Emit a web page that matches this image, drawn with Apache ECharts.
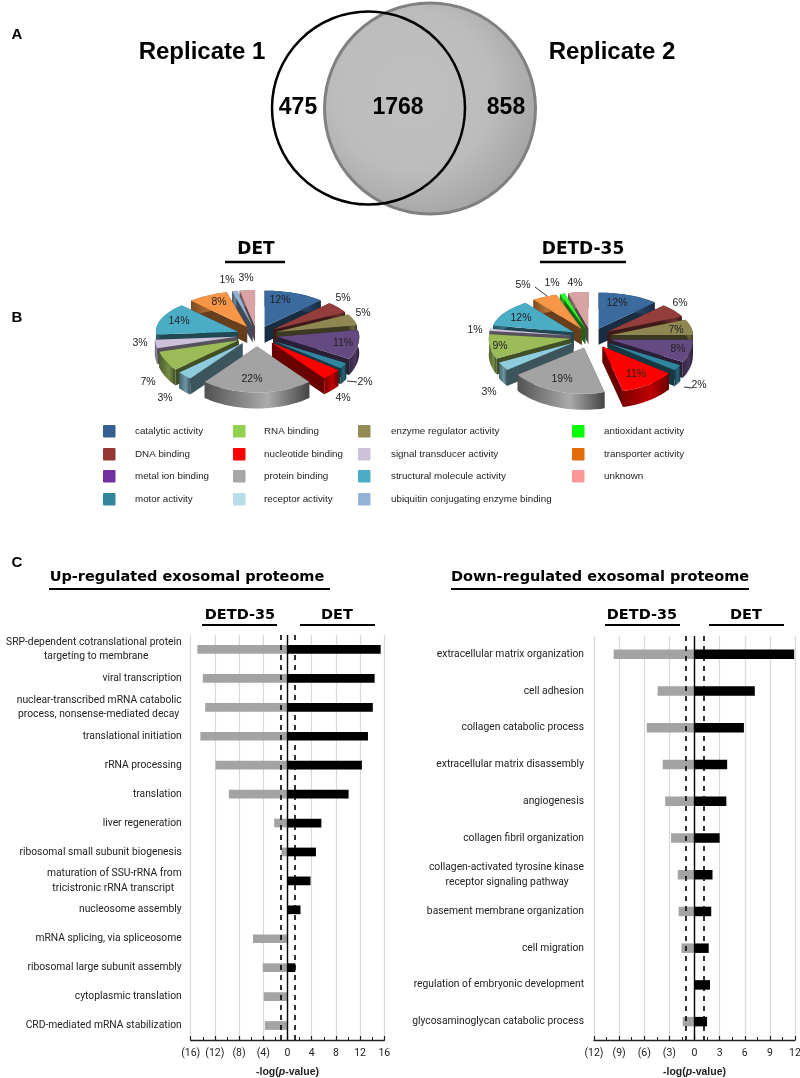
<!DOCTYPE html>
<html><head><meta charset="utf-8">
<style>html,body{margin:0;padding:0;background:#fff}#c{width:800px;height:1078px}</style>
<script src="https://cdn.jsdelivr.net/npm/echarts@6/dist/echarts.min.js"></script>
</head><body><div id="c"></div>
<script>
// ---------- Panel A ----------
const vennCounts = [475, 1768, 858];
const vennNames = ['Replicate 1', 'Replicate 2'];

// ---------- Panel B ----------
const functionNames = ['catalytic activity','DNA binding','enzyme regulator activity','metal ion binding','motor activity','nucleotide binding','protein binding','receptor activity','RNA binding','signal transducer activity','structural molecule activity','transporter activity','ubiquitin conjugating enzyme binding','antioxidant activity','unknown'];
const detShares  = [12,5,5,11,2,4,22,3,7,3,14,8,1,0,3];
const detd35Shares = [12,6,7,8,2,11,19,3,9,1,12,5,0,1,4];
const pieColors = ['#3b6a9e','#933e3c','#8f8752','#644a80','#31869f','#ff0000','#a3a3a3','#8ecbdc','#9bbb59','#ccc1da','#4bacc6','#f79646','#95b3d7','#33ff33','#d9a3a3'];
const legendColors = {'catalytic activity':'#376092','DNA binding':'#953735','metal ion binding':'#7030a0','motor activity':'#31859c','RNA binding':'#92d050','nucleotide binding':'#ff0000','protein binding':'#a6a6a6','receptor activity':'#b7dee8','enzyme regulator activity':'#948a54','signal transducer activity':'#ccc1da','structural molecule activity':'#4bacc6','ubiquitin conjugating enzyme binding':'#95b3d7','antioxidant activity':'#00ff00','transporter activity':'#e36c09','unknown':'#ff9999'};
const legendColumns = [
  ['catalytic activity','DNA binding','metal ion binding','motor activity'],
  ['RNA binding','nucleotide binding','protein binding','receptor activity'],
  ['enzyme regulator activity','signal transducer activity','structural molecule activity','ubiquitin conjugating enzyme binding'],
  ['antioxidant activity','transporter activity','unknown']
];

// ---------- Panel C ----------
const upTerms = ['SRP-dependent cotranslational protein\ntargeting to membrane             ','viral transcription','nuclear-transcribed mRNA catabolic\nprocess, nonsense-mediated decay ','translational initiation','rRNA processing','translation','liver regeneration','ribosomal small subunit biogenesis','maturation of SSU-rRNA from\ntricistronic rRNA transcript   ','nucleosome assembly','mRNA splicing, via spliceosome','ribosomal large subunit assembly','cytoplasmic translation','CRD-mediated mRNA stabilization'];
const upDetd35 = [-14.9,-14.0,-13.6,-14.4,-11.9,-9.7,-2.2,-1.0,0,0,-5.7,-4.1,-3.9,-3.75];
const upDet = [15.4,14.4,14.1,13.3,12.3,10.1,5.6,4.7,3.8,2.15,0,1.3,0,0];
const downTerms = ['extracellular matrix organization','cell adhesion','collagen catabolic process','extracellular matrix disassembly','angiogenesis','collagen fibril organization','collagen-activated tyrosine kinase\nreceptor signaling pathway      ','basement membrane organization','cell migration','regulation of embryonic development','glycosaminoglycan catabolic process'];
const downDetd35 = [-9.65,-4.4,-5.7,-3.8,-3.5,-2.8,-2.0,-1.9,-1.55,0,-1.4];
const downDet = [11.9,7.2,5.9,3.9,3.8,3.0,2.15,2.0,1.7,1.85,1.5];
const upThresholds = [-1.1,1.2];
const downThresholds = [-1.07,1.07];

// ---------- layout (not data) ----------
const SANS='"Liberation Sans",Arial,sans-serif', NARROW='Roboto,"Liberation Sans",sans-serif', WIDE='"DejaVu Sans",sans-serif';
const detLabelXY = [[280,300],[343,298],[363,313],[343,343],[365,382],[343,398],[252,379],[165,398],[148,382],[140,343],[179,321],[219,302],[227,280],null,[246,278]];
const detdLabelXY = [[617,303],[680,303],[676,330],[678,349],[699,385],[636,374],[562,379],[489,392],[500,346],[475,330],[521,318],[523,285],null,[552,283],[575,283]];

function shade(hex,f){const n=parseInt(hex.slice(1),16);const c=s=>Math.min(255,Math.round(((n>>s)&255)*f));return `rgb(${c(16)},${c(8)},${c(0)})`;}

function pieSeries(shares,center){
  let cum=0;const rows=[];
  shares.forEach((v,i)=>{ if(v>0){rows.push({i,v,start:cum,end:cum+v});} cum+=v; });
  const total=cum;
  rows.sort((a,b)=>{const m=r=>(r.start+r.end)/2/total*2*Math.PI;return (-Math.cos(m(a)))-(-Math.cos(m(b)));});
  const rx=82,ryB=36,ryF=46,depth=16,ex=0.25;
  return {type:'custom',coordinateSystem:'cartesian2d',xAxisIndex:0,yAxisIndex:0,z:3,silent:true,
    data:rows.map(r=>[center[0],center[1],r.i,r.start,r.end]),
    renderItem(params,api){
      const c=api.coord([api.value(0),api.value(1)]),idx=api.value(2);
      const a0=api.value(3)/total*2*Math.PI,a1=api.value(4)/total*2*Math.PI,mid=(a0+a1)/2;
      const P=(a,r)=>{const cs=Math.cos(a);return [Math.sin(a)*rx*r,-cs*(cs>=0?ryB:ryF)*r];};
      const off=P(mid,ex),ax=c[0]+off[0],ay=c[1]+off[1];
      const arc=[];const n=Math.max(4,Math.ceil((a1-a0)/0.05));
      for(let k=0;k<=n;k++){const p=P(a0+(a1-a0)*k/n,1);arc.push([ax+p[0],ay+p[1]]);}
      const down=p=>[p[0],p[1]+depth];
      const col=pieColors[idx];
      const top=[[ax,ay],...arc];
      const outer=[...arc,...arc.slice().reverse().map(down)];
      const wallFill=new echarts.graphic.LinearGradient(0,0,1,0,[{offset:0,color:shade(col,0.5)},{offset:0.6,color:shade(col,idx===6?1.05:0.75)},{offset:1,color:shade(col,0.42)}]);
      const rad=p=>({type:'polygon',shape:{points:[[ax,ay],p,down(p),[ax,ay+depth]]},style:{fill:shade(col,0.42)}});
      return {type:'group',children:[
        rad(arc[0]),rad(arc[arc.length-1]),
        {type:'polygon',shape:{points:outer},style:{fill:wallFill}},
        {type:'polygon',shape:{points:top},style:{fill:col}}
      ]};
    }
  };
}

function barSeries(name,vals,color,x,thresholds,bw){
  const s={name,type:'bar',xAxisIndex:x,yAxisIndex:x,data:vals,barWidth:bw,barGap:'-100%',itemStyle:{color},z:2,silent:true};
  if(thresholds){
    s.markLine={silent:true,symbol:'none',label:{show:false},animation:false,z:5,
      data:[{xAxis:thresholds[0],lineStyle:{type:[5,5],color:'#000',width:1.6}},
            {xAxis:thresholds[1],lineStyle:{type:[5,5],color:'#000',width:1.6}},
            {xAxis:0,lineStyle:{type:'solid',color:'#000',width:1.4}}]};
  }
  return s;
}

function valueAxis(gridIndex,lim,interval){
  return {type:'value',gridIndex,min:-lim,max:lim,interval,
    axisLine:{show:true,onZero:false,lineStyle:{color:'#222',width:1.4}},
    axisTick:{show:true,inside:true,length:4,lineStyle:{color:'#222',width:1.2}},
    minorTick:{show:true,splitNumber:2,length:3,lineStyle:{color:'#222',width:1}},
    splitLine:{show:true,lineStyle:{color:'#d9d9d9',width:1.2}},
    axisLabel:{margin:8,fontFamily:NARROW,fontSize:10.5,color:'#222',hideOverlap:false,showMinLabel:true,showMaxLabel:true,
      formatter:v=>v<0?'('+(-v)+')':String(v)},
    name:'{b|-log(}{i|p}{b|-value)}',nameLocation:'middle',nameGap:27,
    nameTextStyle:{rich:{b:{fontFamily:SANS,fontWeight:'bold',fontSize:10.5,color:'#222'},i:{fontFamily:SANS,fontWeight:'bold',fontStyle:'italic',fontSize:10.5,color:'#222'}}}
  };
}
function catAxis(gridIndex,terms,margin,size){
  return {type:'category',gridIndex,data:terms,inverse:true,
    axisLine:{show:false,onZero:false},axisTick:{show:false},splitLine:{show:false},
    axisLabel:{interval:0,margin,align:'right',fontFamily:NARROW,fontSize:size,color:'#222',lineHeight:14.5}};
}

// ---------- static text ----------
const T=(text,x,y,font,size,weight,align,color)=>({type:'text',z:100,x,y,silent:true,style:{text,fontFamily:font,fontSize:size,fontWeight:weight||'normal',fill:color||'#000',align:align||'center',verticalAlign:'middle'}});
const L=(x1,y1,x2,y2,w,col)=>({type:'line',z:100,silent:true,shape:{x1,y1,x2,y2},style:{stroke:col||'#000',lineWidth:w||2}});
const graphics=[
  T('A',17,35,SANS,15,'bold'),T('B',17,318,SANS,15,'bold'),T('C',17,563,SANS,15,'bold'),
  T(vennNames[0],202,52,SANS,24,'bold'),T(vennNames[1],612,52,SANS,24,'bold'),
  T('DET',256,250,WIDE,17,'bold'),L(225,262,285,262,2.5),
  T('DETD-35',583,250,WIDE,17,'bold'),L(540,262,626,262,2.5),
  L(347,381,357,382,1,'#333'),L(684,387,692,388,1,'#333'),L(535,287,547,296,1,'#333'),
  T('Up-regulated exosomal proteome',187,577,WIDE,14.5,'bold'),L(49,589,330,589,2),
  T('DETD-35',240,615,WIDE,14.5,'bold'),L(202,625,277,625,2),
  T('DET',337,615,WIDE,14.5,'bold'),L(300,625,375,625,2),
  T('Down-regulated exosomal proteome',600,577,WIDE,14.5,'bold'),L(451,589,749,589,2),
  T('DETD-35',642,615,WIDE,14.5,'bold'),L(605,625,680,625,2),
  T('DET',746,615,WIDE,14.5,'bold'),L(709,625,784,625,2)
];
[[detShares,detLabelXY],[detd35Shares,detdLabelXY]].forEach(([vals,xy])=>{
  vals.forEach((v,i)=>{ if(v>0&&xy[i]) graphics.push(T(v+'%',xy[i][0],xy[i][1],SANS,10.5,'normal','center','#222')); });
});
const legendX=[[103,135],[233,264],[358,391],[572,604]],legendY=[431,454,476,499];
legendColumns.forEach((col,c)=>col.forEach((name,r)=>{
  graphics.push({type:'rect',z:100,silent:true,shape:{x:legendX[c][0],y:legendY[r]-6,width:12.5,height:12.5,r:1},style:{fill:legendColors[name]}});
  graphics.push(T(name,legendX[c][1],legendY[r],SANS,9.8,'normal','left','#222'));
}));

const option={
  animation:false,backgroundColor:'#fff',
  grid:[
    {left:0,top:0,width:800,height:1078,show:false,outerBoundsMode:'none'},
    {left:190.7,top:635,width:193.6,height:405,show:false,outerBoundsMode:'none',containLabel:false},
    {left:594,top:636,width:201,height:404,show:false,outerBoundsMode:'none',containLabel:false}
  ],
  xAxis:[{type:'value',gridIndex:0,min:0,max:800,show:false},valueAxis(1,16,4),valueAxis(2,12,3)],
  yAxis:[{type:'value',gridIndex:0,min:0,max:1078,inverse:true,show:false},catAxis(1,upTerms,9,10.3),catAxis(2,downTerms,10,10.3)],
  graphic:graphics,
  series:[
    {type:'scatter',xAxisIndex:0,yAxisIndex:0,silent:true,z:2,symbol:'circle',symbolSize:211,
     data:[[430,108.5]],
     itemStyle:{opacity:1,color:new echarts.graphic.RadialGradient(0.42,0.42,0.62,[{offset:0,color:'#c0c0c0'},{offset:0.6,color:'#bcbcbc'},{offset:1,color:'#a4a4a4'}]),borderColor:'#808080',borderWidth:3}},
    {type:'scatter',xAxisIndex:0,yAxisIndex:0,silent:true,z:3,symbol:'circle',symbolSize:193,
     data:[[368.5,108]],
     itemStyle:{opacity:1,color:'rgba(0,0,0,0)',borderColor:'#000',borderWidth:2.5}},
    {type:'scatter',xAxisIndex:0,yAxisIndex:0,silent:true,z:4,symbolSize:0,
     data:[[298,108],[398,108],[506,108]].map((p,i)=>({value:p,label:{formatter:String(vennCounts[i])}})),
     itemStyle:{opacity:1},
     label:{show:true,position:'inside',fontFamily:SANS,fontWeight:'bold',fontSize:23,color:'#000'}},
    pieSeries(detShares,[257,335]),
    pieSeries(detd35Shares,[591,337]),
    barSeries('DETD-35',upDetd35,'#a3a3a3',1,null,8.7),
    barSeries('DET',upDet,'#000',1,upThresholds,8.7),
    barSeries('DETD-35',downDetd35,'#a3a3a3',2,null,9.5),
    barSeries('DET',downDet,'#000',2,downThresholds,9.5)
  ]
};
const chart=echarts.init(document.getElementById('c'),null,{renderer:'canvas',width:800,height:1078});
chart.setOption(option);
</script></body></html>
